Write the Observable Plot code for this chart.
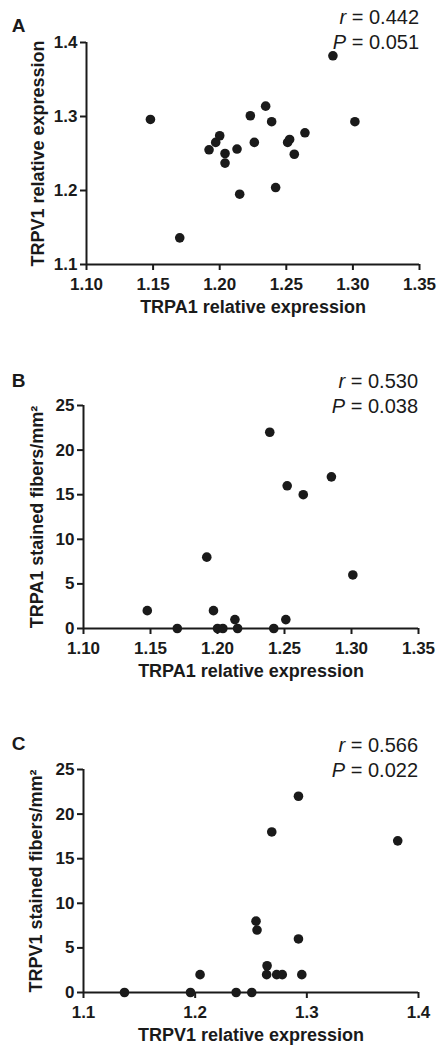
<!DOCTYPE html>
<html>
<head>
<meta charset="utf-8">
<script src="https://cdn.jsdelivr.net/npm/d3@7"></script>
<script src="https://cdn.jsdelivr.net/npm/@observablehq/plot@0.6"></script>
<style>
  html, body { margin: 0; padding: 0; background: #fff; }
  #chart svg { display: block; }
</style>
</head>
<body>
<div id="chart"></div>
<script>
// Panel A: TRPA1 vs TRPV1 relative expression
const trpa1A = [1.148, 1.170, 1.192, 1.197, 1.200, 1.204, 1.204, 1.213, 1.215, 1.223, 1.226, 1.2345, 1.239, 1.242, 1.251, 1.2525, 1.256, 1.264, 1.285, 1.3015];
const trpv1A = [1.296, 1.136, 1.255, 1.265, 1.274, 1.250, 1.237, 1.256, 1.195, 1.301, 1.265, 1.314, 1.293, 1.204, 1.265, 1.269, 1.249, 1.278, 1.382, 1.293];

// Panel B: TRPA1 relative expression vs TRPA1 stained fibers/mm2
const trpa1B = [1.1476, 1.170, 1.192, 1.197, 1.200, 1.204, 1.213, 1.215, 1.239, 1.242, 1.251, 1.252, 1.264, 1.285, 1.301];
const fibersB = [2, 0, 8, 2, 0, 0, 1, 0, 22, 0, 1, 16, 15, 17, 6];

// Panel C: TRPV1 relative expression vs TRPV1 stained fibers/mm2
const trpv1C = [1.1367, 1.1958, 1.2044, 1.2367, 1.2507, 1.2545, 1.2554, 1.2644, 1.264, 1.2686, 1.273, 1.278, 1.2925, 1.2925, 1.2955, 1.3814];
const fibersC = [0, 0, 2, 0, 0, 8, 7, 3, 2, 18, 2, 2, 22, 6, 2, 17];

// Ticks
const xTicksAB = [1.10, 1.15, 1.20, 1.25, 1.30, 1.35];
const yTicksA = [1.1, 1.2, 1.3, 1.4];
const yTicksBC = [0, 5, 10, 15, 20, 25];
const xTicksC = [1.1, 1.2, 1.3, 1.4];

// Labels
const panelLetters = ["A", "B", "C"];
const rValues = ["0.442", "0.530", "0.566"];
const pValues = ["0.051", "0.038", "0.022"];
const xTitles = ["TRPA1 relative expression", "TRPA1 relative expression", "TRPV1 relative expression"];
const yTitles = ["TRPV1 relative expression", "TRPA1 stained fibers/mm²", "TRPV1 stained fibers/mm²"];

const INK = "#1a1a1a";
const FONT = "'Liberation Sans', Arial, Helvetica, sans-serif";

function panel(cfg) {
  const data = cfg.xs.map((x, i) => ({x, y: cfg.ys[i]}));
  const svg = Plot.plot({
    width: 439,
    height: cfg.height,
    marginTop: 42,
    marginBottom: cfg.height - 42 - cfg.frameH,
    marginLeft: cfg.ml,
    marginRight: cfg.mr,
    style: {fontFamily: FONT, fontSize: "17px", fontWeight: "bold", color: INK, background: "#fff", overflow: "visible"},
    x: {domain: cfg.xDomain},
    y: {domain: cfg.yDomain},
    marks: [
      Plot.ruleY([cfg.yDomain[0]], {stroke: INK, strokeWidth: 2}),
      Plot.ruleX([cfg.xDomain[0]], {stroke: INK, strokeWidth: 2}),
      Plot.axisX({ticks: cfg.xTicks, tickFormat: cfg.xFormat, tickSize: 6, tickPadding: 7, strokeWidth: 2, stroke: INK, fill: INK, label: null, fontSize: 17, fontWeight: "bold"}),
      Plot.axisY({ticks: cfg.yTicks, tickFormat: cfg.yFormat, tickSize: 6, tickPadding: 3, strokeWidth: 2, stroke: INK, fill: INK, label: null, fontSize: 17, fontWeight: "bold"}),
      Plot.text([cfg.xTitle], {frameAnchor: "bottom", textAnchor: "middle", lineAnchor: "middle", dy: 43, fontSize: 18, fontWeight: "bold", fill: INK}),
      Plot.text([cfg.yTitle], {frameAnchor: "left", textAnchor: "middle", lineAnchor: "middle", rotate: -90, dx: cfg.yTitleDx, fontSize: 18, fontWeight: "bold", fill: INK}),
      Plot.dot(data, {x: "x", y: "y", r: 4.8, fill: INK, stroke: "none"})
    ]
  });
  const s = d3.select(svg);
  const right = 439 - cfg.mr;
  // panel letter
  s.append("text")
    .attr("x", 18.5).attr("y", 42 + cfg.letterDy)
    .attr("text-anchor", "middle")
    .attr("font-size", 19).attr("font-weight", "bold").attr("fill", INK)
    .text(cfg.letter);
  // r line
  const rt = s.append("text")
    .attr("x", right).attr("y", 42 + cfg.rDy)
    .attr("text-anchor", "end")
    .attr("font-size", 20).attr("font-weight", "normal").attr("fill", INK);
  rt.append("tspan").attr("font-style", "italic").text("r");
  rt.append("tspan").text(" = " + cfg.r);
  const pt = s.append("text")
    .attr("x", right).attr("y", 42 + cfg.rDy + 24.5)
    .attr("text-anchor", "end")
    .attr("font-size", 20).attr("font-weight", "normal").attr("fill", INK);
  pt.append("tspan").attr("font-style", "italic").text("P");
  pt.append("tspan").text(" = " + cfg.p);
  return svg;
}

const chart = document.getElementById("chart");

chart.appendChild(panel({
  xs: trpa1A, ys: trpv1A, height: 363, frameH: 222, ml: 86, mr: 20,
  xDomain: [1.10, 1.35], yDomain: [1.1, 1.4],
  xTicks: xTicksAB, yTicks: yTicksA,
  xFormat: d => d.toFixed(2), yFormat: d => d.toFixed(1),
  xTitle: xTitles[0], yTitle: yTitles[0], yTitleDx: -48,
  letter: panelLetters[0], letterDy: -10, r: rValues[0], p: pValues[0], rDy: -18
}));

chart.appendChild(panel({
  xs: trpa1B, ys: fibersB, height: 364, frameH: 223, ml: 83, mr: 21,
  xDomain: [1.10, 1.35], yDomain: [0, 25],
  xTicks: xTicksAB, yTicks: yTicksBC,
  xFormat: d => d.toFixed(2), yFormat: d => String(d),
  xTitle: xTitles[1], yTitle: yTitles[1], yTitleDx: -46,
  letter: panelLetters[1], letterDy: -18, r: rValues[1], p: pValues[1], rDy: -17
}));

chart.appendChild(panel({
  xs: trpv1C, ys: fibersC, height: 322, frameH: 223, ml: 83, mr: 21,
  xDomain: [1.1, 1.4], yDomain: [0, 25],
  xTicks: xTicksC, yTicks: yTicksBC,
  xFormat: d => d.toFixed(1), yFormat: d => String(d),
  xTitle: xTitles[2], yTitle: yTitles[2], yTitleDx: -47,
  letter: panelLetters[2], letterDy: -19, r: rValues[2], p: pValues[2], rDy: -17
}));
</script>
</body>
</html>
